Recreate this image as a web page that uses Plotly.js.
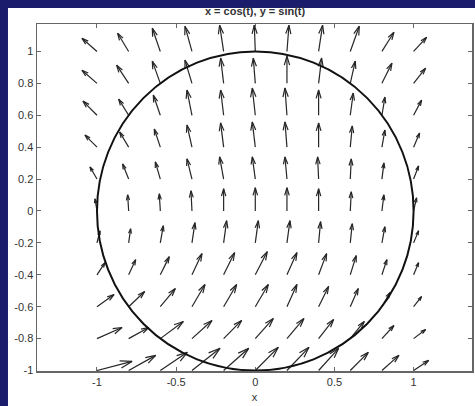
<!DOCTYPE html>
<html>
<head>
<meta charset="utf-8">
<script src="https://cdn.plot.ly/plotly-3.0.1.min.js"></script>
<style>html,body{margin:0;padding:0;background:#1b1d6c;}#chart{width:475px;height:406px;}</style>
</head>
<body>
<div id="chart"></div>
<script>
// Grid of arrow tails
const gridX = [-1, -0.8, -0.6, -0.4, -0.2, 0, 0.2, 0.4, 0.6, 0.8, 1];
const gridY = [1, 0.8, 0.6, 0.4, 0.2, 0, -0.2, -0.4, -0.6, -0.8, -1];
// Arrow components (rows follow gridY, columns follow gridX)
const U = [
  [-15,-11,-8,-7,-4,-1,2,4,9,12,13],
  [-15,-12,-8,-7,-3,-2,0,3,5,10,12],
  [-14,-10,-7,-5,-3,-3,-2,0,3,3,8],
  [-12,-9,-6,-5,-3,-3,-2,0,2,3,6],
  [-7,-6,-5,-5,-4,-3,-2,-1,1,2,5],
  [-2,-1,-1,-1,0,0,0,0,1,2,3],
  [3,2,3,3,3,3,3,2,2,3,5],
  [8,7,9,10,11,12,10,8,6,5,5],
  [17,16,15,13,13,13,10,10,8,8,8],
  [25,20,23,20,18,18,17,15,14,12,12],
  [35,27,27,28,25,23,22,20,18,17,15]
];
const V = [
  [13,18,23,25,26,26,26,26,25,19,14],
  [13,18,22,23,25,25,27,25,22,20,15],
  [14,16,20,25,25,27,27,25,22,18,15],
  [12,15,18,22,24,25,25,24,21,17,14],
  [12,15,17,20,22,22,22,22,20,16,13],
  [12,16,17,20,22,23,23,22,19,16,13],
  [12,14,17,20,22,22,22,21,19,16,12],
  [12,15,18,21,22,23,22,21,19,15,12],
  [12,15,18,22,22,22,22,20,18,14,10],
  [11,11,17,18,18,20,20,19,17,13,9],
  [9,15,18,22,22,23,23,22,18,15,10]
];
const xTicks = [-1, -0.5, 0, 0.5, 1];
const xTickText = ['-1', '-0.5', '0', '0.5', '1'];
const yTicks = [-1, -0.8, -0.6, -0.4, -0.2, 0, 0.2, 0.4, 0.6, 0.8, 1];
const yTickText = ['-1', '-0.8', '-0.6', '-0.4', '-0.2', '0', '0.2', '0.4', '0.6', '0.8', '1'];

const scale = 1 / 158; // quiver scale
const alpha = 0.33, beta = 0.3;
const lx = [], ly = [];
for (let i = 0; i < gridY.length; i++) {
  for (let j = 0; j < gridX.length; j++) {
    const x = gridX[j], y = gridY[i];
    const u = U[i][j] * scale, v = V[i][j] * scale;
    const tx = x + u, ty = y + v;
    lx.push(x, tx, null);
    ly.push(y, ty, null);
    lx.push(tx - alpha * (u + beta * v), tx, tx - alpha * (u - beta * v), null);
    ly.push(ty - alpha * (v - beta * u), ty, ty - alpha * (v + beta * u), null);
  }
}

const FONT = 'Liberation Sans, Arial, sans-serif';
const traces = [{
  type: 'scatter', mode: 'lines', x: lx, y: ly,
  line: {color: '#262626', width: 1.2}, hoverinfo: 'skip', showlegend: false
}];

const axisCommon = {
  showgrid: false, zeroline: false, showline: true, mirror: 'ticks',
  linecolor: '#666', linewidth: 1.5, ticks: 'inside', ticklen: 4, tickcolor: '#666',
  tickfont: {family: FONT, size: 11, color: '#333'},
  tickmode: 'array'
};

const layout = {
  width: 475, height: 406,
  margin: {l: 37, r: 3, t: 24, b: 35},
  paper_bgcolor: '#1b1d6c', plot_bgcolor: '#ffffff',
  showlegend: false,
  title: {text: 'x = cos(t), y = sin(t)', x: 0.537, xanchor: 'center', y: 0.973, yanchor: 'middle',
          yref: 'container',
          font: {family: FONT, size: 11, weight: 'bold', color: '#333'}},
  xaxis: Object.assign({}, axisCommon, {range: [-1.379, 1.369], tickvals: xTicks, ticktext: xTickText,
          title: {text: 'x', standoff: 6, font: {family: FONT, size: 11, color: '#333'}}}),
  yaxis: Object.assign({}, axisCommon, {range: [-1.003, 1.172], tickvals: yTicks, ticktext: yTickText}),
  shapes: [
    {type: 'rect', xref: 'paper', yref: 'paper', x0: -0.0667, x1: 1.01, y0: -0.11, y1: 1.046,
     fillcolor: '#ffffff', line: {width: 0}, layer: 'below'},
    {type: 'circle', xref: 'x', yref: 'y', x0: -1, x1: 1, y0: -1, y1: 1,
     line: {color: '#111', width: 2}, layer: 'above'}
  ]
};

Plotly.newPlot('chart', traces, layout, {displayModeBar: false, staticPlot: true});
</script>
</body>
</html>
